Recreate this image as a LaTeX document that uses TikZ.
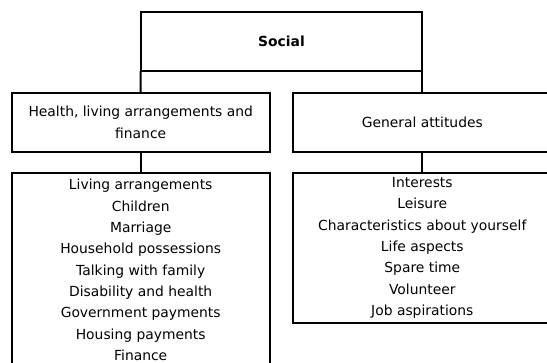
\documentclass[tikz,border=0pt]{standalone}
\usepackage{fontspec}
\setmainfont{DejaVu Sans}
\begin{document}
\begin{tikzpicture}[x=0.75pt,y=-0.75pt,
  box/.style={draw=black,line width=1.5pt,rectangle,inner sep=0pt,outer sep=0pt,align=center,
    font={\fontsize{10.4pt}{16pt}\selectfont}},
  link/.style={draw=black,line width=1.5pt}]
\useasboundingbox (0,0) rectangle (547,362);
\clip (0,0) rectangle (547,362);
\node[box,minimum width=211.2pt,minimum height=44pt,font={\fontsize{10.4pt}{16pt}\selectfont\bfseries}] (social) at (281.5,41.7) {Social};
\node[box,minimum width=193.4pt,minimum height=43.7pt] (health) at (140.7,122.4) {Health, living arrangements and\\finance};
\node[box,minimum width=193.4pt,minimum height=43.7pt] (general) at (422.3,122.4) {General attitudes};
\node[box,minimum width=193.4pt,minimum height=146pt] (list1) at (140.7,270) {Living arrangements\\Children\\Marriage\\Household possessions\\Talking with family\\Disability and health\\Government payments\\Housing payments\\Finance};
\node[box,minimum width=193.4pt,minimum height=112.5pt] (list2) at (422.3,248) {Interests\\Leisure\\Characteristics about yourself\\Life aspects\\Spare time\\Volunteer\\Job aspirations};
\draw[link] (social.south west) -- (health.north);
\draw[link] (social.south east) -- (general.north);
\draw[link] (health.south) -- (list1.north);
\draw[link] (general.south) -- (list2.north);
\end{tikzpicture}
\end{document}
